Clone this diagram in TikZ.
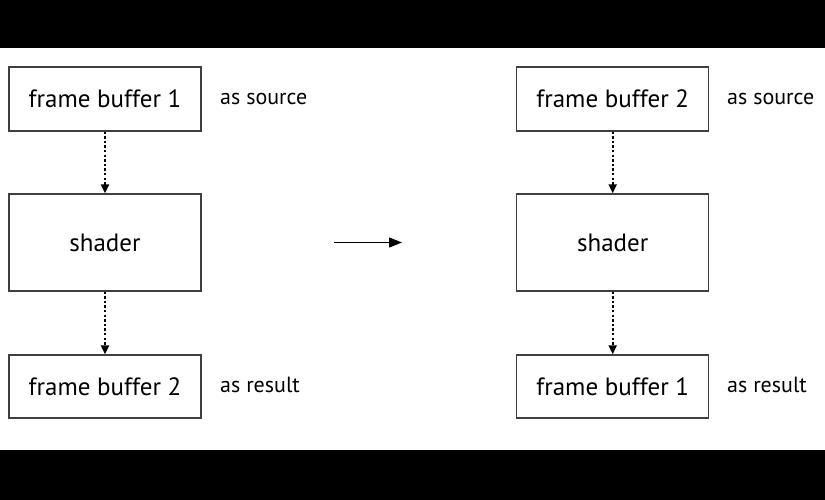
\documentclass[tikz,border=0pt]{standalone}
\usepackage{fontspec}
\setmainfont{PT Sans}
\usetikzlibrary{arrows.meta}
\begin{document}
\begin{tikzpicture}[x=1pt,y=-1pt,
  fbox/.style={draw=black!75,line width=1.3pt,minimum width=192pt,inner sep=0pt,font=\fontsize{25}{28}\selectfont},
  lbl/.style={anchor=west,inner sep=0pt,font=\fontsize{22}{25}\selectfont},
  dotarrow/.style={line width=2pt,dash pattern=on 2.4pt off 2.2pt,-{Triangle[width=8pt,length=9pt]}},
  bar/.style={fill=black,draw=none}]
\useasboundingbox (0,0) rectangle (825,500);
\fill[white] (0,0) rectangle (825,500);
\path[bar] (0,0) rectangle (825,48.5);
\path[bar] (0,450) rectangle (825,500);
% left column
\node[fbox,minimum height=64pt] (l1) at (105,99) {frame buffer 1};
\node[fbox,minimum height=97pt] (ls) at (105,242.5) {shader};
\node[fbox,minimum height=63pt] (l2) at (105,386.5) {frame buffer 2};
\node[lbl] (lsrc) at (220,99) {as source};
\node[lbl] (lres) at (220,385) {as result};
\draw[dotarrow] (l1.south) -- (ls.north);
\draw[dotarrow] (ls.south) -- (l2.north);
% middle arrow
\coordinate (ma) at (334,242.5);
\coordinate (mb) at (402,242.5);
\draw[line width=1.2pt,-{Triangle[width=10pt,length=13pt]}] (ma) -- (mb);
% right column
\node[fbox,minimum height=64pt] (r1) at (612.7,99) {frame buffer 2};
\node[fbox,minimum height=97pt] (rs) at (612.7,242.5) {shader};
\node[fbox,minimum height=63pt] (r2) at (612.7,386.5) {frame buffer 1};
\node[lbl] (rsrc) at (727,99) {as source};
\node[lbl] (rres) at (727,385) {as result};
\draw[dotarrow] (r1.south) -- (rs.north);
\draw[dotarrow] (rs.south) -- (r2.north);
\end{tikzpicture}
\end{document}
